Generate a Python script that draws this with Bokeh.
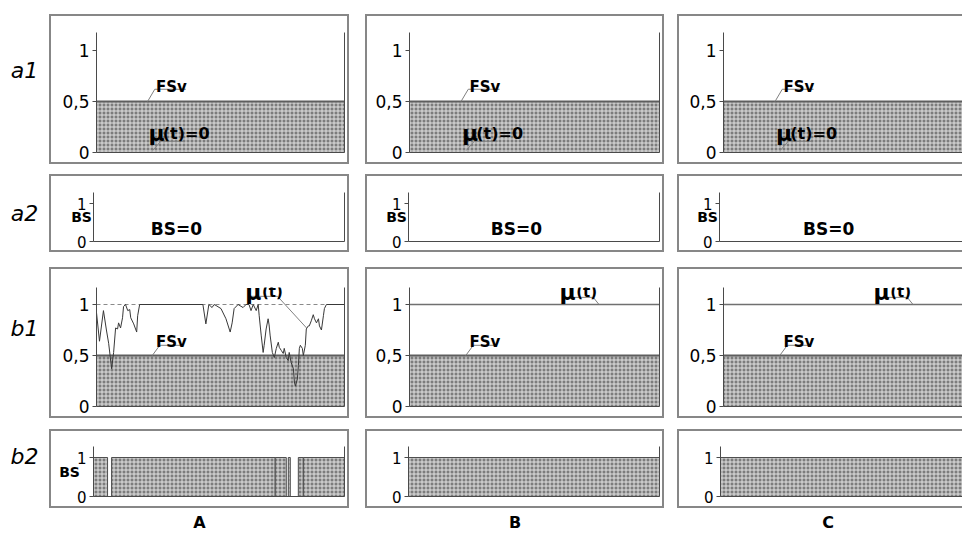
from bokeh.plotting import figure
from bokeh.layouts import column, row
from bokeh.models import Spacer, LinearAxis, FixedTicker, Range1d, Label
from bokeh.embed import file_html
from bokeh.resources import INLINE

# ---------------- data ----------------
COL_NAMES = ["A", "B", "C"]
ROW_NAMES = ["a1", "a2", "b1", "b2"]
FSV_LEVEL = 0.5
MU_TICKS = [0, 0.5, 1]
MU_TICK_LABELS = ["0", "0,5", "1"]
BS_TICKS = [0, 1]
BS_TICK_LABELS = ["0", "1"]
T_SPAN = [0, 100]
MU_ZERO = [0, 0]          # a1: mu(t)=0
BS_ZERO = [0, 0]          # a2: BS=0
MU_ONE = [1, 1]           # reference level 1

# b1, column A: membership mu(t)
MU_A_T = [0, 1.2, 2.8, 4.0, 4.9, 6.1, 6.9, 7.7, 8.5, 8.9,
          9.7, 10.5, 10.9, 11.7, 12.6, 13.4, 13.8, 15.0, 16.2, 16.6,
          17.4, 42.9, 44.1, 45.3, 46.6, 47.4, 48.2, 50.2, 52.2, 53.9,
          54.7, 55.5, 57.1, 59.1, 60.3, 61.5, 62.3, 63.2, 64.4, 65.2,
          65.6, 66.4, 67.2, 67.6, 68.4, 69.2, 69.6, 70.0, 70.9, 71.7,
          72.5, 73.3, 73.7, 74.5, 75.3, 75.7, 76.5, 77.3, 77.7, 78.5,
          79.4, 79.8, 80.2, 81.0, 81.4, 81.8, 82.2, 83.0, 83.4, 84.2,
          84.6, 85.4, 85.8, 86.6, 87.4, 87.9, 88.7, 89.5, 89.9, 90.7,
          91.5, 91.9, 92.7, 100]
MU_A_V = [0.92, 0.64, 0.94, 0.75, 0.62, 0.37, 0.53, 0.77, 0.76, 0.82,
          0.77, 0.87, 0.98, 1.0, 0.94, 0.95, 0.87, 0.81, 0.73, 0.89,
          1.0, 1.0, 0.81, 1.0, 0.97, 1.0, 0.99, 0.96, 0.86, 0.73,
          0.82, 0.96, 1.0, 0.97, 1.0, 1.0, 0.94, 1.0, 0.94, 1.0,
          0.89, 0.70, 0.53, 0.60, 0.76, 0.86, 0.80, 0.70, 0.53, 0.48,
          0.57, 0.63, 0.58, 0.55, 0.52, 0.57, 0.48, 0.45, 0.53, 0.43,
          0.37, 0.24, 0.20, 0.27, 0.40, 0.57, 0.60, 0.57, 0.50, 0.60,
          0.76, 0.79, 0.79, 0.84, 0.90, 0.86, 0.82, 0.86, 0.79, 0.75,
          0.89, 0.96, 1.0, 1.0]
MU_B_V = [1, 1]
MU_C_V = [1, 1]

# b2: intervals where BS = 1
BS_A_START = [0.0, 7.2, 72.4, 77.6, 81.6, 83.6]
BS_A_END = [5.6, 72.4, 76.8, 78.4, 83.6, 100.0]
BS_B_START = [0.0]
BS_B_END = [100.0]
BS_C_START = [0.0]
BS_C_END = [100.0]

# ---------------- layout / style constants ----------------
LBL_W = 49
COL_LEFT = [49, 365, 677]
COL_W = [300, 299, 285]          # visible widths
COL_FULL_W = [300, 299, 301]     # full box widths (C is cut by the window)
COL_GAP = [16, 13]
PAGE_W = LBL_W + sum(COL_W) + sum(COL_GAP)
TOP_PAD = 14
ROW_H = {"a1": 150, "a2": 78, "b1": 151, "b2": 79}
ROW_TOP = {"a1": 18, "a2": 18, "b1": 20, "b2": 17}
ROW_BOT = {"a1": 12, "a2": 11, "b1": 12, "b2": 12}
UNIT = {"a1": 102, "a2": 38, "b1": 102, "b2": 39}
FRAME_LEFT = {"a1": [47, 44, 46], "a2": [44, 43, 42], "b1": [47, 44, 46], "b2": [44, 43, 43]}
ROW_GAP = [10, 15, 11]
ROW_LABEL_Y = {"a1": 0.80, "a2": 0.75, "b1": 0.76, "b2": 1.03}
RIGHT_B = 5
BW = 2                       # box line width
FONT = "DejaVu Sans"
AX = "#4a4a4a"
LEAD = "#808080"
BOX = "#878787"
FILL = dict(fill_color="#7c7c7c", hatch_pattern="cross", hatch_color="#e2e2e2",
            hatch_scale=4, hatch_weight=1)


def bold_label(p, x, y, text, size="15px", align="left"):
    p.add_layout(Label(x=x, y=y, text=text, text_font=FONT, text_font_style="bold",
                       text_font_size=size, text_align=align, text_baseline="alphabetic",
                       text_color="black"))


def bar(w, h):
    return Spacer(width=w, height=h, styles={"background-color": BOX})


def make_panel(r, c):
    W, H = COL_W[c], ROW_H[r]
    has_right = c < 2
    L = FRAME_LEFT[r][c]
    R = RIGHT_B if has_right else 0
    fw_vis = W - L - R
    fw_full = COL_FULL_W[c] - L - RIGHT_B
    x_end = T_SPAN[1] * fw_vis / fw_full
    fh = H - ROW_TOP[r] - ROW_BOT[r]
    y_top = fh / UNIT[r]
    fig_w = W - BW - (BW if has_right else 0)
    fig_h = H - 2 * BW
    p = figure(width=fig_w, height=fig_h, x_range=Range1d(0, x_end), y_range=Range1d(0, y_top),
               x_axis_location=None, y_axis_location=None, toolbar_location=None,
               output_backend="svg", min_border_left=L - BW,
               min_border_right=(R - BW) if has_right else 0,
               min_border_top=ROW_TOP[r] - BW, min_border_bottom=ROW_BOT[r] - BW)
    p.grid.visible = False
    p.outline_line_color = None
    p.background_fill_color = "white"
    p.border_fill_color = "white"

    is_mu = r in ("a1", "b1")
    ticks = MU_TICKS if is_mu else BS_TICKS
    labels = MU_TICK_LABELS if is_mu else BS_TICK_LABELS
    left = LinearAxis(ticker=FixedTicker(ticks=ticks),
                      major_label_overrides={t: s for t, s in zip(ticks, labels)},
                      axis_line_color=AX, major_tick_line_color=AX,
                      major_tick_out=4, major_tick_in=0, minor_tick_out=0, minor_tick_in=0,
                      major_label_standoff=3, major_label_text_font=FONT,
                      major_label_text_font_size="17px" if is_mu else "15px",
                      major_label_text_color="black")
    if r == "a2" or (r == "b2" and c == 0):
        left.axis_label = "BS"
        left.axis_label_orientation = "horizontal"
        left.axis_label_text_font = FONT
        left.axis_label_text_font_style = "bold"
        left.axis_label_text_font_size = "14px"
        left.axis_label_text_color = "black"
        left.axis_label_standoff = -18 if r == "a2" else -6
    p.add_layout(left, "left")
    below = LinearAxis(ticker=FixedTicker(ticks=[]), axis_line_color=AX,
                       major_tick_out=0, major_tick_in=0, minor_tick_out=0, minor_tick_in=0,
                       major_label_standoff=0, major_label_text_font_size="0px")
    p.add_layout(below, "below")
    if has_right:
        right = LinearAxis(ticker=FixedTicker(ticks=[]), axis_line_color=AX,
                           major_tick_out=0, major_tick_in=0, minor_tick_out=0, minor_tick_in=0,
                           major_label_standoff=0, major_label_text_font_size="0px")
        p.add_layout(right, "right")

    if r == "a1":
        p.quad(left=T_SPAN[0], right=T_SPAN[1], bottom=0, top=FSV_LEVEL, line_color=None, **FILL)
        p.line(T_SPAN, [FSV_LEVEL, FSV_LEVEL], line_color="#5e5e5e", line_width=2)
        p.line(T_SPAN, MU_ZERO, line_color=AX, line_width=1)
        p.line([20.6, 23.5, 36.0], [0.5, 0.62, 0.62], line_color=LEAD, line_width=1)
        bold_label(p, 24, 0.64, "FSv", "15px")
        p.line([22.7, 25.9, 35.2], [0.02, 0.11, 0.11], line_color=LEAD, line_width=1)
        bold_label(p, 21, 0.19, "μ", "22px")
        bold_label(p, 26.7, 0.19, "(t)=0", "16px")
    elif r == "a2":
        p.line(T_SPAN, BS_ZERO, line_color=AX, line_width=1)
        bold_label(p, 33 if c == 0 else 43, 0.34, "BS=0", "17px", "center")
    elif r == "b1":
        p.quad(left=T_SPAN[0], right=T_SPAN[1], bottom=0, top=FSV_LEVEL, line_color=None, **FILL)
        p.line(T_SPAN, [FSV_LEVEL, FSV_LEVEL], line_color="#5e5e5e", line_width=2)
        p.line([22.5, 25.5, 34.5], [0.5, 0.6, 0.6], line_color=LEAD, line_width=1)
        bold_label(p, 24, 0.63, "FSv", "15px")
        if c == 0:
            p.line(T_SPAN, MU_ONE, line_color="#8a8a8a", line_width=1, line_dash="4 3")
            p.line(MU_A_T, MU_A_V, line_color="#383838", line_width=1)
            p.line([62.1, 73.0, 84.7], [1.08, 1.08, 0.77], line_color=LEAD, line_width=1)
        else:
            mu_v = MU_B_V if c == 1 else MU_C_V
            p.line(T_SPAN, mu_v, line_color="#707070", line_width=1.5)
            p.line([62.5, 73.5, 75.8], [1.07, 1.07, 1.0], line_color=LEAD, line_width=1)
        bold_label(p, 60, 1.12, "μ", "22px")
        bold_label(p, 66.7, 1.12, "(t)", "15px")
    else:
        starts = [BS_A_START, BS_B_START, BS_C_START][c]
        ends = [BS_A_END, BS_B_END, BS_C_END][c]
        p.quad(left=starts, right=ends, bottom=0, top=1, line_color="#4f4f4f",
               line_width=1, **FILL)

    mid = [bar(BW, fig_h), p] + ([bar(BW, fig_h)] if has_right else [])
    return column(bar(W, BW), row(mid, spacing=0), bar(W, BW), spacing=0)


def row_label_fig(r):
    H = ROW_H[r]
    fh = H - ROW_TOP[r] - ROW_BOT[r]
    p = figure(width=LBL_W, height=H, x_range=Range1d(0, LBL_W),
               y_range=Range1d(0, fh / UNIT[r]), x_axis_location=None, y_axis_location=None,
               toolbar_location=None, output_backend="svg", min_border_left=0,
               min_border_right=0, min_border_top=ROW_TOP[r], min_border_bottom=ROW_BOT[r])
    p.grid.visible = False
    p.outline_line_color = None
    p.add_layout(Label(x=24, y=ROW_LABEL_Y[r], text=r, text_font=FONT,
                       text_font_style="italic", text_font_size="22px",
                       text_align="center", text_baseline="middle", text_color="black"))
    return p


def col_label_fig():
    p = figure(width=PAGE_W, height=24, x_range=Range1d(0, PAGE_W), y_range=Range1d(0, 24),
               x_axis_location=None, y_axis_location=None, toolbar_location=None,
               output_backend="svg", min_border=0)
    p.grid.visible = False
    p.outline_line_color = None
    for c, name in enumerate(COL_NAMES):
        p.add_layout(Label(x=COL_LEFT[c] + COL_FULL_W[c] / 2, y=10, text=name, text_font=FONT,
                           text_font_style="bold", text_font_size="16px", text_align="center",
                           text_baseline="middle", text_color="black"))
    return p


items = [Spacer(width=PAGE_W, height=TOP_PAD)]
for ri, r in enumerate(ROW_NAMES):
    kids = [row_label_fig(r)]
    for c in range(3):
        kids.append(make_panel(r, c))
        if c < 2:
            kids.append(Spacer(width=COL_GAP[c], height=ROW_H[r]))
    items.append(row(kids, spacing=0))
    if ri < 3:
        items.append(Spacer(width=PAGE_W, height=ROW_GAP[ri]))
items.append(col_label_fig())
layout = column(items, spacing=0)

open("out.html", "w").write(file_html(layout, INLINE))
